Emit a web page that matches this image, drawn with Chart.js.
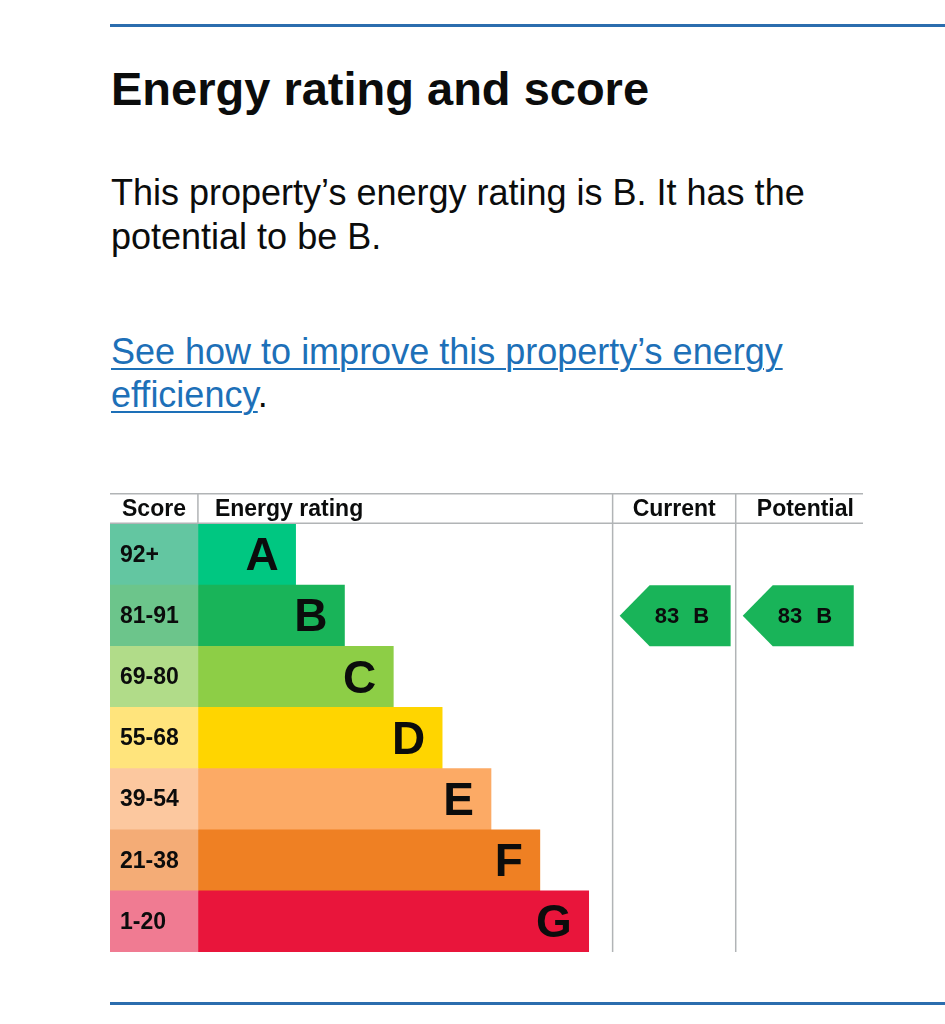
<!DOCTYPE html>
<html>
<head>
<meta charset="utf-8">
<script src="https://cdn.jsdelivr.net/npm/chart.js@4.4.1/dist/chart.umd.min.js"></script>
<style>
  body { margin: 0; background: #fff; width: 945px; height: 1024px; position: relative; overflow: hidden;
         font-family: "Liberation Sans", Arial, sans-serif; color: #0b0c0c; }
  .rule { position: absolute; left: 110px; right: 0; height: 3px; background: #2b6dae; }
  h2 { position: absolute; left: 111px; top: 61px; margin: 0; font-size: 47px; line-height: 56px; font-weight: bold; }
  .txt { position: absolute; left: 111px; margin: 0; font-size: 36px; line-height: 43.5px; white-space: nowrap; }
  a { color: #1d70b8; text-decoration: underline; text-decoration-thickness: 2px; text-underline-offset: 4px; }
  #wrap { position: absolute; left: 110px; top: 493px; width: 762px; height: 460px; }
</style>
</head>
<body>
<div class="rule" style="top:24px"></div>
<h2>Energy rating and score</h2>
<p class="txt" style="top:171px">This property’s energy rating is B. It has the<br>potential to be B.</p>
<p class="txt" style="top:330px;line-height:43px"><a href="#">See how to improve this property’s energy<br>efficiency</a>.</p>
<div id="wrap"><canvas id="epc"></canvas></div>
<div class="rule" style="top:1002px"></div>

<script>
// bands, top to bottom
const bands = ["A", "B", "C", "D", "E", "F", "G"];
const scoreRanges = ["92+", "81-91", "69-80", "55-68", "39-54", "21-38", "1-20"];
// bar length in units (one step per band)
const barLength = [2, 3, 4, 5, 6, 7, 8];
const barColors = ["#00c781", "#19b459", "#8dce46", "#ffd500", "#fcaa65", "#ef8023", "#e9153b"];
const scoreColors = ["#63c6a1", "#6cc58b", "#b1dc89", "#ffe47c", "#fcc89f", "#f4ac76", "#f07b92"];

const currentScore = 83;
const currentBand = "B";
const potentialScore = 83;
const potentialBand = "B";

const SCORE_COL = 1.8;     // width of score column, in bar units
const CURRENT_COL = 10.29; // where the "Current" column starts
const POTENTIAL_COL = 12.81;
const X_MAX = 15.6;
const FONT = '"Liberation Sans", Arial, sans-serif';
const LINE = "#b1b4b6";

const epcPlugin = {
  id: "epc",
  afterDatasetsDraw(chart) {
    const ctx = chart.ctx;
    const x = chart.scales.x, y = chart.scales.y;
    const area = chart.chartArea;
    const rowH = y.getPixelForValue(1) - y.getPixelForValue(0);
    const xs = x.getPixelForValue(SCORE_COL);
    const xc = x.getPixelForValue(CURRENT_COL);
    const xp = x.getPixelForValue(POTENTIAL_COL);
    const lineEnd = 753;

    ctx.save();
    // table lines
    ctx.strokeStyle = LINE;
    ctx.lineWidth = 1.5;
    ctx.beginPath();
    ctx.moveTo(0, 0.75); ctx.lineTo(lineEnd, 0.75);
    ctx.moveTo(0, area.top - 0.75); ctx.lineTo(lineEnd, area.top - 0.75);
    ctx.moveTo(xs, 0); ctx.lineTo(xs, area.top);
    ctx.moveTo(xc, 0); ctx.lineTo(xc, area.bottom);
    ctx.moveTo(xp, 0); ctx.lineTo(xp, area.bottom);
    ctx.stroke();

    // headers
    ctx.fillStyle = "#0b0c0c";
    ctx.textBaseline = "middle";
    ctx.font = "bold 23px " + FONT;
    const hy = area.top / 2 + 1;
    ctx.textAlign = "center";
    ctx.fillText("Score", xs / 2, hy);
    ctx.fillText("Current", (xc + xp) / 2, hy);
    ctx.fillText("Potential", (xp + lineEnd) / 2 + 6, hy);
    ctx.textAlign = "left";
    ctx.fillText("Energy rating", xs + 17, hy);

    // score ranges and band letters
    bands.forEach((b, i) => {
      const cy = y.getPixelForValue(i);
      ctx.textAlign = "left";
      ctx.font = "bold 23px " + FONT;
      ctx.fillText(scoreRanges[i], 10, cy + 1);
      ctx.textAlign = "right";
      ctx.font = "bold 46px " + FONT;
      ctx.fillText(b, x.getPixelForValue(SCORE_COL + barLength[i]) - 17, cy + 3);
    });

    // current / potential arrows
    function arrow(colX, score, band) {
      const i = bands.indexOf(band);
      const cy = y.getPixelForValue(i);
      const top = cy - rowH / 2, bot = cy + rowH / 2;
      const tip = colX + 7, right = tip + 111, notch = tip + 30;
      ctx.fillStyle = barColors[i];
      ctx.beginPath();
      ctx.moveTo(tip, cy);
      ctx.lineTo(notch, top);
      ctx.lineTo(right, top);
      ctx.lineTo(right, bot);
      ctx.lineTo(notch, bot);
      ctx.closePath();
      ctx.fill();
      const mid = (tip + right) / 2;
      ctx.fillStyle = "#0b0c0c";
      ctx.font = "bold 22px " + FONT;
      ctx.textAlign = "right";
      ctx.fillText(String(score), mid + 4, cy + 1);
      ctx.textAlign = "left";
      ctx.fillText(band, mid + 18, cy + 1);
    }
    arrow(xc, currentScore, currentBand);
    arrow(xp, potentialScore, potentialBand);
    ctx.restore();
  }
};

new Chart(document.getElementById("epc"), {
  type: "bar",
  data: {
    labels: bands,
    datasets: [
      {
        label: "Score",
        data: bands.map(() => SCORE_COL),
        backgroundColor: scoreColors,
        borderWidth: 0,
        barPercentage: 1,
        categoryPercentage: 1
      },
      {
        label: "Energy rating",
        data: barLength,
        backgroundColor: barColors,
        borderWidth: 0,
        barPercentage: 1,
        categoryPercentage: 1
      }
    ]
  },
  options: {
    indexAxis: "y",
    responsive: true,
    maintainAspectRatio: false,
    animation: false,
    layout: { padding: { top: 31, bottom: 1, left: 0, right: 0 } },
    scales: {
      x: { stacked: true, min: 0, max: X_MAX, display: false },
      y: { stacked: true, display: false }
    },
    plugins: {
      legend: { display: false },
      tooltip: { enabled: false }
    }
  },
  plugins: [epcPlugin]
});
</script>
</body>
</html>
